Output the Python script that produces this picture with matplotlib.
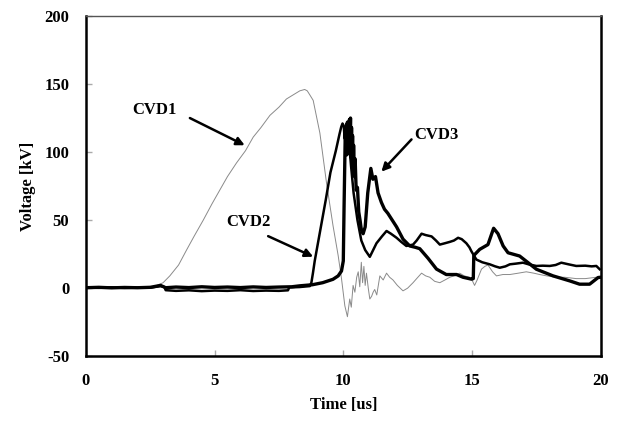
import matplotlib
matplotlib.use('Agg')
import matplotlib.pyplot as plt

# CVD1 (thin grey trace)
t_cvd1 = [0, 1, 2, 2.4, 2.7, 3.0, 3.26, 3.6, 3.91, 4.2, 4.56, 4.9, 5.2, 5.5, 5.85, 6.2, 6.5, 6.8,
          7.15, 7.5, 7.79, 8.05, 8.31, 8.5, 8.6, 8.7, 8.83, 9.09, 9.35, 9.6, 9.8, 9.93, 10.06, 10.16,
          10.25, 10.31, 10.38, 10.45, 10.52, 10.58, 10.64, 10.7, 10.75, 10.8, 10.85, 10.9, 10.97,
          11.03, 11.1, 11.16, 11.22, 11.3, 11.42, 11.55, 11.68, 11.8, 11.93, 12.1, 12.32, 12.5,
          12.71, 12.85, 13.04, 13.2, 13.36, 13.55, 13.75, 13.95, 14.14, 14.3, 14.52, 14.7, 14.91,
          15.0, 15.1, 15.2, 15.37, 15.5, 15.62, 15.8, 15.95, 16.2, 16.47, 16.8, 17.11, 17.4, 17.63,
          17.9, 18.28, 18.6, 19.05, 19.4, 19.83, 20]
v_cvd1 = [0, 0.3, 0, 0.5, 1.5, 4, 9, 17, 28, 38, 50, 62, 72, 82, 92, 101, 111, 118,
          127, 133, 139, 142, 145, 146, 145, 142, 138, 114, 77, 46, 24, 7, -13, -21,
          -8, -14, 2, -3, 8, 12, 1, 19, 4, 16, 2, 11, 0,
          -8, -6, -3, -1, -5, 9, 6, 11, 8, 6, 2, -2, 0,
          4, 7, 11, 9, 8, 5, 4, 6, 8, 9, 11, 9, 8,
          6, 2, 6, 14, 16, 17, 12, 9, 10, 10, 11, 12, 11, 10,
          9, 8, 8, 7, 7, 8, 8]

# CVD2
t_cvd2 = [0, 0.5, 1.0, 1.5, 2.0, 2.5, 2.9, 3.05, 3.1, 3.5, 4.0, 4.5, 5.0, 5.5, 6.0, 6.5, 7.0, 7.5,
          7.85, 7.9, 8.3, 8.7, 8.76, 8.82, 8.89, 9.1, 9.32, 9.5, 9.71, 9.85, 9.92, 9.97, 10.02,
          10.05, 10.1, 10.15, 10.2, 10.3, 10.4, 10.55, 10.7, 10.85, 11.03, 11.29, 11.5, 11.68,
          11.85, 12.07, 12.25, 12.45, 12.71, 12.85, 13.04, 13.2, 13.43, 13.6, 13.75, 13.95, 14.14,
          14.3, 14.46, 14.6, 14.78, 14.9, 14.98, 15.17, 15.4, 15.69, 15.9, 16.08, 16.3, 16.47,
          16.7, 16.98, 17.2, 17.5, 17.75, 18.02, 18.25, 18.47, 18.75, 19.05, 19.4, 19.65, 19.83,
          19.96]
v_cvd2 = [0.5, 0.2, 0.6, 0.1, 0.4, 0.3, 1.5, 0.8, -1.5, -2, -1.6, -2.2, -1.8, -2, -1.5, -2.1, -1.8, -2,
          -1.6, 0.5, 0.8, 1.5, 4, 11, 20, 42, 65, 85, 101, 113, 118.5, 121, 119,
          110, 118, 100, 112, 90, 70, 50, 35, 28, 23, 33, 38, 42,
          40, 37, 34, 31, 32, 35, 40, 39, 38, 35, 32, 33, 34,
          35, 37, 36, 33, 30, 27, 21, 19, 17.5, 16, 15, 16, 17.5,
          18, 18.7, 17.5, 16.3, 16.5, 16.3, 17, 18.7, 17.5, 16.3, 16.5, 16, 16.3,
          13.9]

# CVD3
t_cvd3 = [0, 0.5, 1.0, 1.5, 2.0, 2.5, 2.9, 3.1, 3.5, 4.0, 4.5, 5.0, 5.5, 6.0, 6.5, 7.0, 7.5, 8.0,
          8.31, 8.8, 9.2, 9.6, 9.8, 9.93, 10.0, 10.03, 10.06, 10.08, 10.1, 10.12, 10.14, 10.16,
          10.18, 10.2, 10.22, 10.24, 10.26, 10.28, 10.3, 10.32, 10.34, 10.36, 10.38, 10.4, 10.43,
          10.46, 10.5, 10.55, 10.6, 10.65, 10.7, 10.77,
          10.85, 10.95, 11.07, 11.15, 11.25, 11.35, 11.48, 11.6, 11.73, 11.9, 12.07, 12.32, 12.58,
          12.8, 12.97, 13.29, 13.62, 14.0, 14.4, 14.65, 14.98, 15.05, 15.07, 15.3, 15.62, 15.84,
          16.01, 16.21, 16.4, 16.85, 17.18, 17.5, 18.15, 18.8, 19.18, 19.57, 19.9, 20.0]
v_cvd3 = [0.3, 0.6, 0.2, 0.5, 0.3, 0.6, 2, 0.3, 0.8, 0.4, 1.0, 0.5, 0.8, 0.4, 0.9, 0.5, 0.8, 1.0,
          1.7, 2.5, 4, 6.5, 9, 12.6, 20, 60, 95, 118, 100, 120, 98, 122,
          104, 118, 100, 124, 110, 125, 96, 118, 92, 112, 85, 105, 82,
          95, 72, 74, 56, 50, 43, 40,
          45, 70, 88, 80, 82, 70, 63, 58, 55, 50, 45, 36, 31,
          30, 29, 22, 14, 10, 10, 8, 6.6, 7, 24, 28.5, 32, 44,
          40, 31, 26, 23.6, 18.7, 13.9, 9, 5.3, 2.9, 2.9, 7.8, 8]

x_ticks = [0, 5, 10, 15, 20]
y_ticks = [-50, 0, 50, 100, 150, 200]

plt.rcParams['font.family'] = ['Liberation Serif', 'DejaVu Serif']
plt.rcParams['font.weight'] = 'bold'
plt.rcParams['axes.unicode_minus'] = False

fig = plt.figure(figsize=(6.18, 4.21), dpi=100)
ax = fig.add_axes([0.139, 0.154, 0.833, 0.808])

ax.plot(t_cvd1, v_cvd1, color='#8a8a8a', linewidth=0.7)
ax.plot(t_cvd2, v_cvd2, color='black', linewidth=1.8)
ax.plot(t_cvd3, v_cvd3, color='black', linewidth=2.4)

ax.set_xlim(0, 20)
ax.set_ylim(-50, 200)
ax.set_xticks(x_ticks)
ax.set_yticks(y_ticks)
ax.tick_params(direction='in', length=4, width=1, color='#aaaaaa', labelsize=12, pad=12)

for side in ['left', 'bottom', 'right']:
    ax.spines[side].set_linewidth(1.8)
    ax.spines[side].set_color('black')
ax.spines['top'].set_linewidth(1.0)
ax.spines['top'].set_color('#555555')

ax.set_xlabel('Time [us]', fontsize=12, fontweight='bold', labelpad=6)
ax.set_ylabel('Voltage [kV]', fontsize=12, fontweight='bold', labelpad=6)

arrow = dict(arrowstyle='-|>', color='black', lw=1.8, mutation_scale=12, shrinkA=0, shrinkB=0)
ax.text(2.68, 130.7, 'CVD1', fontsize=12, fontweight='bold', ha='center', va='center')
ax.annotate('', xy=(6.17, 105), xytext=(4.04, 125), arrowprops=arrow)
ax.text(6.3, 48.4, 'CVD2', fontsize=12, fontweight='bold', ha='center', va='center')
ax.annotate('', xy=(8.83, 23.1), xytext=(7.08, 38.2), arrowprops=arrow)
ax.text(13.62, 112.4, 'CVD3', fontsize=12, fontweight='bold', ha='center', va='center')
ax.annotate('', xy=(11.48, 85.6), xytext=(12.65, 109.3), arrowprops=arrow)

fig.savefig('out.png', dpi=100, facecolor='white')
plt.close(fig)
